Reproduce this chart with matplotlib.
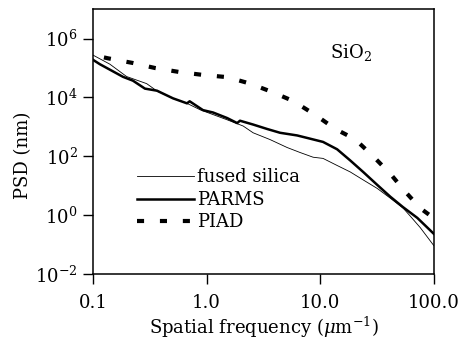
import numpy as np
import matplotlib
matplotlib.use("Agg")
import matplotlib.pyplot as plt

plt.rcParams['font.family'] = ['DejaVu Serif']
plt.rcParams['mathtext.fontset'] = 'dejavuserif'

# PSD curves (frequency in 1/um, PSD in nm)
fused_f = [0.1, 0.141, 0.198, 0.297, 0.366, 0.507, 0.673, 0.88, 1.52, 2.10, 2.57, 3.62,
           5.12, 6.66, 8.67, 10.6, 14.1, 18.4, 23.9, 31.8, 41.4, 53.8, 62.1, 76.0, 100.0]
fused_logp = [5.44, 5.13, 4.71, 4.47, 4.22, 3.97, 3.80, 3.58, 3.24, 3.03, 2.80, 2.57,
              2.30, 2.13, 1.97, 1.93, 1.69, 1.47, 1.20, 0.91, 0.58, 0.24, -0.03, -0.42, -1.03]

parms_f = [0.1, 0.115, 0.184, 0.225, 0.287, 0.366, 0.507, 0.673, 0.71, 0.93, 1.14, 1.52,
           1.86, 1.97, 2.57, 3.41, 4.44, 6.27, 8.16, 10.6, 14.1, 18.4, 23.9, 31.8, 41.4,
           53.8, 71.6, 100.0]
parms_logp = [5.28, 5.13, 4.70, 4.57, 4.30, 4.23, 3.97, 3.80, 3.87, 3.57, 3.49, 3.30,
              3.13, 3.21, 3.08, 2.93, 2.80, 2.71, 2.60, 2.49, 2.24, 1.86, 1.47, 1.03, 0.63,
              0.27, -0.09, -0.63]

piad_f = [0.125, 0.1355, 0.225, 0.352, 0.585, 0.908, 1.52, 2.42, 3.75, 5.78, 9.04, 13.6,
          20.3, 29.3, 41.4, 56.1, 76.0, 100.0]
piad_logp = [5.36, 5.33, 5.17, 5.00, 4.86, 4.77, 4.69, 4.47, 4.19, 3.88, 3.41, 2.93,
             2.58, 2.00, 1.41, 0.80, 0.24, -0.10]

xticks = [0.1, 1.0, 10.0, 100.0]
xticklabels = ['0.1', '1.0', '10.0', '100.0']
yticks = [1e-2, 1e0, 1e2, 1e4, 1e6]
yticklabels = [r'$10^{-2}$', r'$10^{0}$', r'$10^{2}$', r'$10^{4}$', r'$10^{6}$']

fig = plt.figure(figsize=(4.6, 3.38), dpi=100)
ax = fig.add_axes([0.202, 0.189, 0.741, 0.784])

ax.plot(fused_f, 10 ** np.array(fused_logp), color='black', lw=0.6, label='fused silica')
ax.plot(parms_f, 10 ** np.array(parms_logp), color='black', lw=1.8, label='PARMS')
ax.plot(piad_f, 10 ** np.array(piad_logp), color='black', lw=3.0, dashes=(1.7, 3.8),
        label='PIAD')

ax.set_xscale('log')
ax.set_yscale('log')
ax.set_xlim(0.1, 100)
ax.set_ylim(1e-2, 1e7)
ax.set_xticks(xticks)
ax.set_xticklabels(xticklabels)
ax.set_yticks(yticks)
ax.set_yticklabels(yticklabels)
ax.minorticks_off()
ax.tick_params(direction='out', length=7, width=1.0, labelsize=13)
ax.tick_params(axis='x', pad=7)
ax.tick_params(axis='y', pad=4)
for s in ax.spines.values():
    s.set_linewidth(1.1)

ax.set_xlabel(r'Spatial frequency ($\mu$m$^{-1}$)', fontsize=13, labelpad=2)
ax.set_ylabel('PSD (nm)', fontsize=13)
ax.yaxis.set_label_coords(-0.178, 0.45)
ax.text(0.696, 0.838, r'SiO$_2$', transform=ax.transAxes, fontsize=13, va='center')

ax.legend(loc='upper left', bbox_to_anchor=(0.128, 0.399), frameon=False, fontsize=13,
          handlelength=3.2, handletextpad=0.15, labelspacing=0.25, borderaxespad=0,
          borderpad=0)

fig.savefig('out.png', dpi=100)
